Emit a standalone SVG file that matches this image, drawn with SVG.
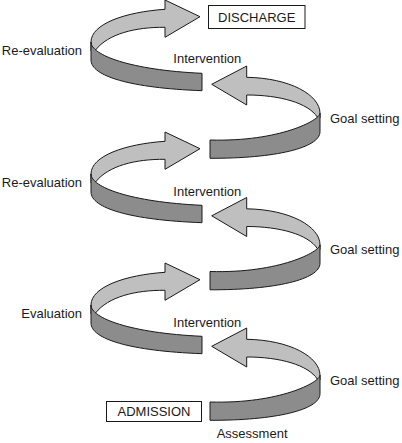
<svg xmlns="http://www.w3.org/2000/svg" xmlns:xlink="http://www.w3.org/1999/xlink" width="402" height="443" viewBox="0 0 402 443">
<style>
.light{fill:#bfbfbf;stroke:#1a1a1a;stroke-width:1;stroke-linejoin:miter}
.dark{fill:#8c8c8c;stroke:#1a1a1a;stroke-width:1;stroke-linejoin:miter}
.lbl{font-family:"Liberation Sans",Arial,sans-serif;font-size:13px;fill:#1a1a1a}
.box{fill:#ffffff;stroke:#1a1a1a;stroke-width:1}
</style>
<defs>
<g id="loopL">
<path class="light" d="M165 9.3 L165 0 L200 16.7 L165 37.3 L165 27.3 C135 27 108 34 95.6 50 L91 51 L91 42 C91 24 125 12 165 9.3 Z"/>
<path class="dark" d="M91 42 C91 55 130 70 202 73.3 L202 90.7 C130 88 91 76 91 60 Z"/>
</g>
<g id="loopR">
<path class="light" d="M246.7 77.3 L246.7 66 L211.7 84.3 L246.7 105 L246.7 95 C280 95 308 103 317.3 117 L320 118 L320 113.3 C320 95 290 78 246.7 77.3 Z"/>
<path class="dark" d="M320 113.3 C320 120 280 142 210 140 L210 158.3 C275 158.5 320 148 320 131.7 Z"/>
</g>
</defs>
<g id="connectors">
<use xlink:href="#loopL" transform="translate(0,0)"/>
<use xlink:href="#loopR" transform="translate(0,0)"/>
<use xlink:href="#loopL" transform="translate(0,132)"/>
<use xlink:href="#loopR" transform="translate(0,131.5)"/>
<use xlink:href="#loopL" transform="translate(0,263)"/>
<use xlink:href="#loopR" transform="translate(0,262)"/>
</g>
<g id="discharge">
<rect class="box" x="208.5" y="5.5" width="96.5" height="23"/>
<text class="lbl" x="256.7" y="21.7" text-anchor="middle">DISCHARGE</text>
</g>
<g id="admission">
<rect class="box" x="106.5" y="401.5" width="95" height="20"/>
<text class="lbl" x="154" y="416" text-anchor="middle">ADMISSION</text>
</g>
<g id="labels">
<text class="lbl" x="82" y="55" text-anchor="end">Re-evaluation</text>
<text class="lbl" x="173.3" y="63.3">Intervention</text>
<text class="lbl" x="330" y="123.3">Goal setting</text>
<text class="lbl" x="82" y="186.7" text-anchor="end">Re-evaluation</text>
<text class="lbl" x="173.3" y="195.5">Intervention</text>
<text class="lbl" x="330" y="254.3">Goal setting</text>
<text class="lbl" x="82" y="317.5" text-anchor="end">Evaluation</text>
<text class="lbl" x="173.3" y="326.5">Intervention</text>
<text class="lbl" x="330" y="384.5">Goal setting</text>
<text class="lbl" x="216.7" y="438.3">Assessment</text>
</g>
</svg>
